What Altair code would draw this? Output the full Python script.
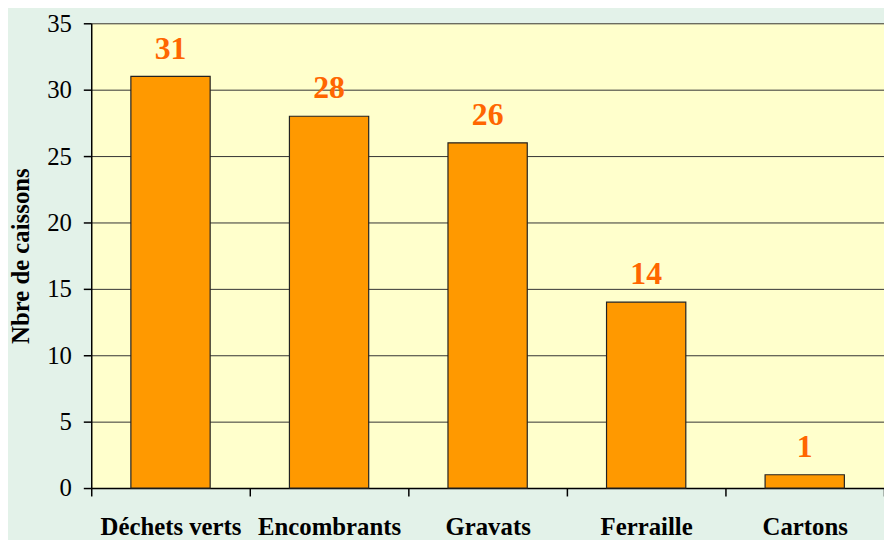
import altair as alt
import pandas as pd

categories = ["Déchets verts", "Encombrants", "Gravats", "Ferraille", "Cartons"]
values = [31, 28, 26, 14, 1]

df = pd.DataFrame({"cat": categories, "val": values})

x = alt.X("cat:N", sort=categories, title=None,
          scale=alt.Scale(paddingInner=0, paddingOuter=0),
          axis=alt.Axis(labelAngle=0, labelFont="Liberation Serif", labelFontSize=25,
                        labelFontWeight="bold", labelColor="black", labelPadding=19,
                        labelBaseline="top",
                        tickBand="extent", tickSize=8, tickColor="black", tickWidth=1.5,
                        domainColor="black", domainWidth=1.5, grid=False))
y = alt.Y("val:Q", title="Nbre de caissons",
          scale=alt.Scale(domain=[0, 35], nice=False),
          axis=alt.Axis(values=[0, 5, 10, 15, 20, 25, 30, 35], labelFont="Liberation Serif",
                        labelFontSize=25, labelColor="black", labelPadding=12,
                        tickSize=8, tickColor="black", tickWidth=1.5,
                        domainColor="black", domainWidth=1.5,
                        grid=True, gridColor="#333333", gridWidth=1,
                        titleFont="Liberation Serif", titleFontSize=25, titleFontWeight="bold",
                        titleColor="black", titlePadding=13))

bars = alt.Chart(df).mark_bar(color="#FF9900", stroke="#222222", strokeWidth=1.2,
                              width=alt.RelativeBandSize(0.5)).encode(x=x, y=y)
labels = alt.Chart(df).mark_text(font="Liberation Serif", fontSize=32, fontWeight="bold",
                                 color="#FF6600", baseline="alphabetic", dy=-18).encode(
    x=alt.X("cat:N", sort=categories), y="val:Q", text="val:Q")

chart = (bars + labels).properties(
    width=800, height=469,
    background="#E3F2E9",
    padding={"left": 84, "top": 13, "right": 0, "bottom": 50},
    autosize=alt.AutoSizeParams(type="none"),
).configure_view(fill="#FFFFCC", stroke=None)

chart.save("out.html", embed_options={"renderer": "svg", "actions": False})
